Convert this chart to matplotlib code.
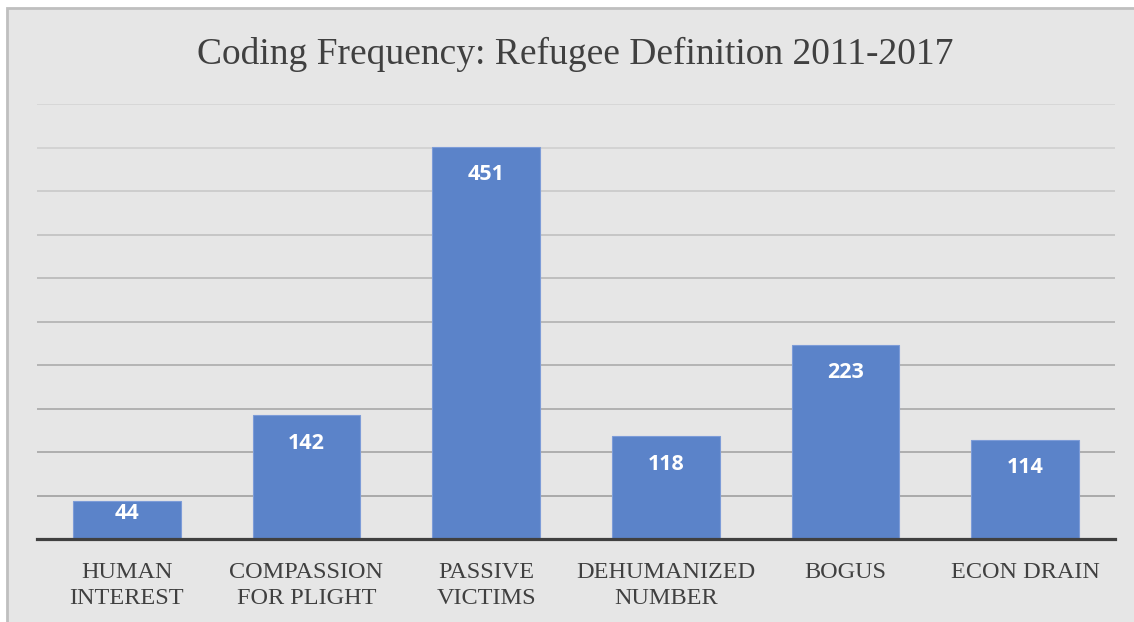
import numpy as np
import matplotlib.pyplot as plt
from matplotlib.patches import Rectangle

# --- Data ---
categories = ['HUMAN\nINTEREST', 'COMPASSION\nFOR PLIGHT', 'PASSIVE\nVICTIMS',
              'DEHUMANIZED\nNUMBER', 'BOGUS', 'ECON DRAIN']
counts = [44, 142, 451, 118, 223, 114]
title = 'Coding Frequency: Refugee Definition 2011-2017'

BG = '#e6e6e6'
BAR = '#5b83c9'
TXT = '#404040'

W, H = 1134, 622
fig = plt.figure(figsize=(W / 100, H / 100), dpi=100, facecolor='white')

# chart panel with light border on top/left
fig.patches.append(Rectangle((7 / W, -0.05), 1.1, 1 - 8 / H + 0.05,
                             transform=fig.transFigure, facecolor=BG,
                             edgecolor='#bfbfbf', linewidth=2, zorder=-5))

ax = fig.add_axes([37 / W, (H - 539) / H, (1115 - 37) / W, (539 - 104) / H])
ax.patch.set_alpha(0)

x = np.arange(len(categories))
bars = ax.bar(x, counts, width=0.6, color=BAR, edgecolor='#7d9cd8',
              linewidth=0.8, zorder=3)

ax.set_xlim(-0.5, len(categories) - 0.5)
ax.set_ylim(0, 500)
ax.set_yticks(np.arange(0, 501, 50))
ax.yaxis.grid(True, linewidth=1.2, zorder=0)
# gridlines fade lighter towards the top
grid_cols = ['#a0a0a0', '#a0a0a0', '#a4a4a4', '#a8a8a8', '#acacac', '#b0b0b0',
             '#b8b8b8', '#c0c0c0', '#c8c8c8', '#d0d0d0', '#d4d4d4']
for gl, c in zip(ax.get_ygridlines(), grid_cols):
    gl.set_color(c)
ax.set_axisbelow(True)

for s in ['top', 'right', 'left']:
    ax.spines[s].set_visible(False)
ax.spines['bottom'].set_color(TXT)
ax.spines['bottom'].set_linewidth(2.3)
ax.spines['bottom'].set_zorder(4)

ax.tick_params(axis='y', left=False, labelleft=False)
ax.tick_params(axis='x', bottom=False, pad=13)
ax.set_xticks(x)
ax.set_xticklabels(categories, family='Liberation Serif', fontsize=17.5,
                   color=TXT, linespacing=1.3, va='top')

# value labels sit just inside the bar top (short bars get a smaller offset)
px_per_unit = (539 - 104) / 500
for b, v in zip(bars, counts):
    off = 28 if v * px_per_unit > 60 else 13
    ax.annotate(str(v), (b.get_x() + b.get_width() / 2, v),
                xytext=(0, -off), textcoords='offset pixels',
                ha='center', va='center', color='white',
                family='Open Sans', fontweight='bold', fontsize=15.5, zorder=5)

fig.text(0.507, 1 - 54 / H, title, ha='center', va='center',
         family='Liberation Serif', fontsize=27, color=TXT)

fig.savefig('out.png', dpi=100, facecolor=fig.get_facecolor())
